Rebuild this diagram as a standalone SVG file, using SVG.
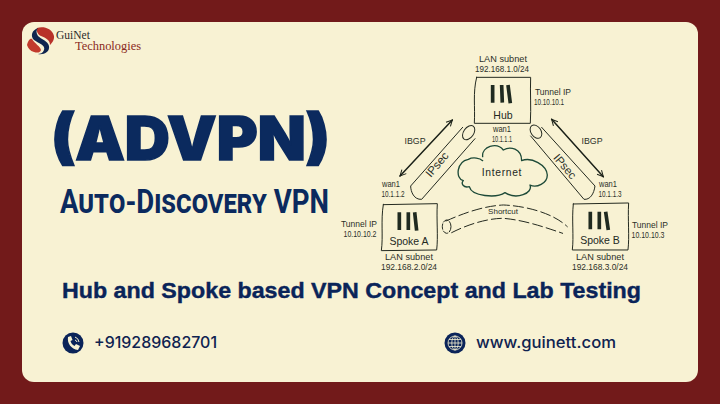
<svg xmlns="http://www.w3.org/2000/svg" width="720" height="404" viewBox="0 0 720 404">
<style>
.sk{fill:none;stroke:#23291f;stroke-width:3;stroke-linecap:round;stroke-linejoin:round}
.tk{fill:none;stroke:#1b2118;stroke-width:4.500;stroke-linecap:round}
.bar{fill:none;stroke:#1f2a20;stroke-width:11;stroke-linecap:butt}
.l{font-family:"Liberation Sans",Arial,sans-serif;font-size:8.800px;fill:#2b3028;text-anchor:middle}
.n{font-family:"Liberation Sans",Arial,sans-serif;font-size:10.500px;fill:#23291f;text-anchor:middle}
.navy{fill:#0b2a5e}
.contact{font-family:Inter,"Liberation Sans",sans-serif;font-size:15.500px;font-weight:500;fill:#0f2350}
</style>
<defs>
<marker id="ah" markerWidth="24" markerHeight="24" refX="20" refY="12" orient="auto-start-reverse" markerUnits="userSpaceOnUse"><path d="M2 3 L20 12 L2 21" fill="none" stroke="#1b2118" stroke-width="3"/></marker>
</defs>
<rect width="720" height="404" fill="#721a1a"/>
<rect x="22" y="22" width="676" height="360" rx="12" fill="#f8f2d3"/>

<g id="logo">
<path d="M37 28 C43 26 52 28 54 36 C54.500 40 52 43 50 45 C50 40 46 38 41 36 C38 35 36 31 37 28Z" fill="#b8322a"/>
<path d="M27 45 C28 41 30 38 32 39 C35 44 40 46 41 50 C40 53 37 53 34 52 C30 51 28 48 27 45Z" fill="#c23a2c"/>
<path d="M38 28 C32 30 30 36 34 40 C38 43 46 45 44 50 C43 53 40 54 38 54 C44 55 50 52 49 46 C48 41 41 39 38 36 C36 33 36 30 38 28Z" fill="#10264f"/>
<text x="56" y="39" font-family="'Liberation Serif',serif" font-size="11.500" fill="#2a2a2a">GuiNet</text>
<text x="75" y="50" font-family="'Liberation Serif',serif" font-size="12" fill="#8a2a22" textLength="66" lengthAdjust="spacingAndGlyphs">Technologies</text>
</g>

<g id="titles">
<text x="51" y="160" class="navy" stroke="#0b2a5e" stroke-width="1.500" stroke-linejoin="miter" font-family="Inter,'Liberation Sans',sans-serif" font-weight="900" font-size="60" textLength="279" lengthAdjust="spacingAndGlyphs">(ADVPN)</text>
<text x="60" y="213" class="navy" font-family="Roboto,'Liberation Sans',sans-serif" font-weight="700" font-size="34" style="font-variant:small-caps" textLength="269" lengthAdjust="spacingAndGlyphs">Auto-Discovery VPN</text>
<text x="62" y="298" fill="#0a2459" font-family="'Liberation Sans',sans-serif" font-weight="700" font-size="22" textLength="579" lengthAdjust="spacingAndGlyphs" stroke="#0a2459" stroke-width="0.4">Hub and Spoke based VPN Concept and Lab Testing</text>
</g>

<g id="phone">
<circle cx="73" cy="343" r="10.500" fill="#0b2459"/>
<path d="M68 337 C67 343 71 349 78 350 L80 346 L76 344 L74.500 346 C72.500 345 71 343 70.500 341 L72.500 340 L71 336Z" fill="#f8f2d3"/>
<path d="M75 337 A6 6 0 0 1 79 342 M75 340 A3 3 0 0 1 77 342" fill="none" stroke="#f8f2d3" stroke-width="1"/>
<text x="94" y="348" class="contact" textLength="123" lengthAdjust="spacingAndGlyphs">+919289682701</text>
</g>
<g id="website">
<circle cx="455" cy="343" r="10.500" fill="#0b2459"/>
<g fill="none" stroke="#f8f2d3" stroke-width="0.8"><circle cx="455" cy="343" r="7"/><ellipse cx="455" cy="343" rx="3.200" ry="7"/><path d="M455 336V350M448 343H462M449 339.500H461M449 346.500H461"/></g>
<text x="476" y="348" class="contact" textLength="140" lengthAdjust="spacingAndGlyphs">www.guinett.com</text>
</g>

<g id="connectors" transform="translate(340 40) scale(0.3333)">
<path class="tk" d="M180 408 L337 240" marker-start="url(#ah)" marker-end="url(#ah)"/>
<path class="tk" d="M635 238 L790 410" marker-start="url(#ah)" marker-end="url(#ah)"/>
<path class="sk" d="M368 262 L212 438 C212 455 222 480 245 478 L405 296"/>
<ellipse class="sk" cx="386" cy="278" rx="15" ry="24" transform="rotate(35 386 278)"/>
<path class="sk" d="M605 262 L765 438 C762 462 750 480 732 478 L572 288"/>
<ellipse class="sk" cx="588" cy="275" rx="15" ry="22" transform="rotate(-35 588 275)"/>
<path class="sk" stroke-dasharray="30 12" d="M318 543 C370 520 430 498 490 495 C560 498 640 520 682 560"/>
<path class="sk" stroke-dasharray="30 12" d="M335 578 C380 555 440 535 490 535 C550 540 610 560 668 580"/>
<ellipse class="sk" stroke-dasharray="16 6" cx="320" cy="560" rx="13" ry="20"/>
</g>

<g id="cloud" transform="translate(340 40) scale(0.3333)">
<path fill="none" stroke="#1d4a38" stroke-width="4" stroke-linecap="round" stroke-linejoin="round" d="M428 350 C425 320 470 305 490 330 C510 318 545 325 545 362 C575 350 620 375 622 405 C622 430 590 445 570 435 C580 460 530 480 495 458 C470 475 395 470 388 440 C370 445 362 430 370 422 C345 415 350 365 385 358 C400 350 420 355 428 362"/>
<text x="486" y="409" class="n" style="font-size:31px" letter-spacing="2">Internet</text>
</g>

<g id="hub">
<path class="sk" transform="translate(340 40) scale(0.3333)" d="M410 112 L572 112 C570 160 574 200 571 250 L403 250 C406 200 398 160 410 112Z"/>
<path class="bar" transform="translate(340 40) scale(0.3333)" d="M458 135 L458 188 M485 135 L487 188 M504 135 L511 190"/>
<text x="503" y="119" class="n">Hub</text>
<text x="503" y="62" class="l" textLength="48" lengthAdjust="spacingAndGlyphs">LAN subnet</text><text x="502" y="71.500" class="l" textLength="54" lengthAdjust="spacingAndGlyphs">192.168.1.0/24</text>
<text x="553" y="95" class="l" textLength="36" lengthAdjust="spacingAndGlyphs">Tunnel IP</text><text x="549" y="104.500" class="l" textLength="30" lengthAdjust="spacingAndGlyphs">10.10.10.1</text>
<text x="502" y="132" class="l" textLength="18" lengthAdjust="spacingAndGlyphs">wan1</text><text x="502" y="141.500" class="l" textLength="20" lengthAdjust="spacingAndGlyphs">10.1.1.1</text>
</g>
<g id="spoke-a">
<path class="sk" transform="translate(340 40) scale(0.3333)" d="M130 494 L292 491 C289 540 295 590 290 630 L124 632 C130 590 122 540 130 494Z"/>
<path class="bar" transform="translate(340 40) scale(0.3333)" d="M178 517 L178 570 M205 517 L205 570 M224 517 L230 572"/>
<text x="409" y="245" class="n">Spoke A</text>
<text x="409" y="260" class="l" textLength="48" lengthAdjust="spacingAndGlyphs">LAN subnet</text><text x="409" y="269.500" class="l" textLength="56" lengthAdjust="spacingAndGlyphs">192.168.2.0/24</text>
<text x="359" y="227" class="l" textLength="36" lengthAdjust="spacingAndGlyphs">Tunnel IP</text><text x="360" y="236.500" class="l" textLength="33" lengthAdjust="spacingAndGlyphs">10.10.10.2</text>
<text x="391" y="187" class="l" textLength="18" lengthAdjust="spacingAndGlyphs">wan1</text><text x="393" y="196.500" class="l" textLength="23" lengthAdjust="spacingAndGlyphs">10.1.1.2</text>
</g>
<g id="spoke-b">
<path class="sk" transform="translate(340 40) scale(0.3333)" d="M700 492 L866 489 C863 540 869 590 864 630 L697 630 C702 590 695 540 700 492Z"/>
<path class="bar" transform="translate(340 40) scale(0.3333)" d="M751 515 L751 568 M778 515 L778 568 M797 515 L805 570"/>
<text x="600" y="244" class="n">Spoke B</text>
<text x="600" y="260" class="l" textLength="48" lengthAdjust="spacingAndGlyphs">LAN subnet</text><text x="600" y="269.500" class="l" textLength="56" lengthAdjust="spacingAndGlyphs">192.168.3.0/24</text>
<text x="650" y="228" class="l" textLength="36" lengthAdjust="spacingAndGlyphs">Tunnel IP</text><text x="648" y="237.500" class="l" textLength="33" lengthAdjust="spacingAndGlyphs">10.10.10.3</text>
<text x="608" y="187" class="l" textLength="18" lengthAdjust="spacingAndGlyphs">wan1</text><text x="610" y="196.500" class="l" textLength="23" lengthAdjust="spacingAndGlyphs">10.1.1.3</text>
</g>
<g id="edge-labels">
<text x="415" y="144" class="l">IBGP</text>
<text x="592" y="144" class="l">IBGP</text>
<text x="440" y="167" class="l" transform="rotate(-50 440 167)" style="font-size:11.500px">IPsec</text>
<text x="562" y="169" class="l" transform="rotate(50 562 169)" style="font-size:11.500px">IPsec</text>
<text x="503" y="214" class="l" style="font-size:8px">Shortcut</text>
</g>
</svg>
